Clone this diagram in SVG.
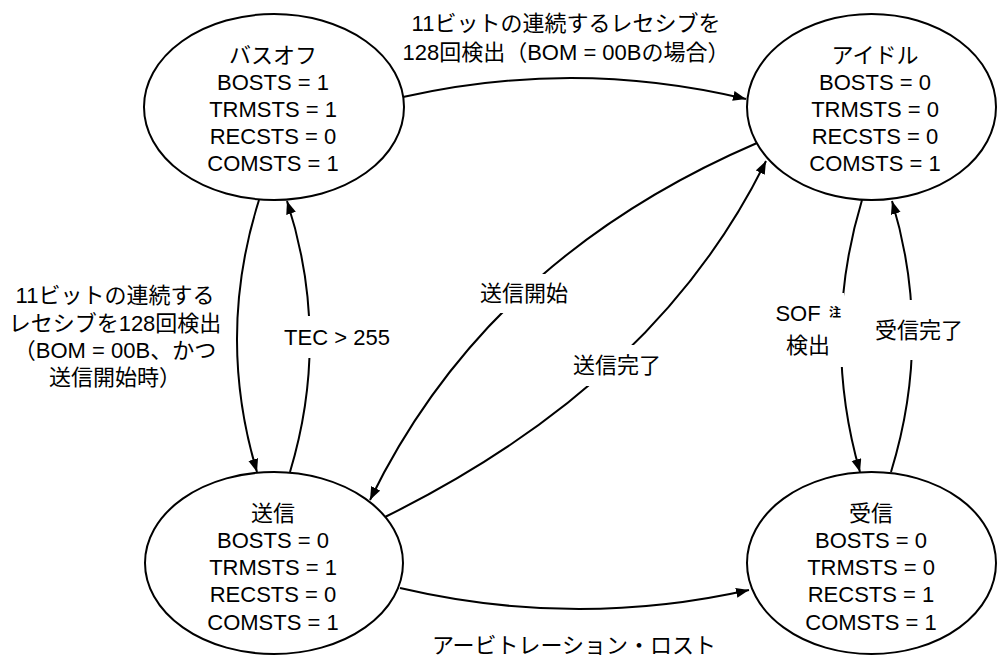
<svg xmlns="http://www.w3.org/2000/svg" width="997" height="659" viewBox="0 0 997 659">
<style>
text{font-family:"Liberation Sans","Noto Sans CJK JP",sans-serif;font-size:22px;fill:#000;text-anchor:middle}
.node ellipse{fill:#fff;stroke:#000;stroke-width:2}
.edge{fill:none;stroke:#000;stroke-width:2}
.bg{fill:#fff;stroke:none}
.note{font-size:12px;font-weight:bold}
</style>
<defs>
<marker id="ah" markerUnits="userSpaceOnUse" markerWidth="14" markerHeight="12" refX="13" refY="5" orient="auto">
<path d="M0,0 L13,5 L0,10 z" fill="#000"/>
</marker>
</defs>
<rect width="997" height="659" fill="#fff"/>
<g id="connectors">
<path class="edge" d="M403,97 Q575,58 746,99" marker-end="url(#ah)"/>
<path class="edge" d="M259,200 Q216,336 257,472" marker-end="url(#ah)"/>
<path class="edge" d="M290,472 Q331,336 287,201" marker-end="url(#ah)"/>
<path class="edge" d="M862,200 Q821,336 860,472" marker-end="url(#ah)"/>
<path class="edge" d="M891,472 Q933,336 892,201" marker-end="url(#ah)"/>
<path class="edge" d="M757,143 Q487,259 370,500" marker-end="url(#ah)"/>
<path class="edge" d="M385,517 Q657,383 766,161" marker-end="url(#ah)"/>
<path class="edge" d="M400,588 Q575,629 749,590" marker-end="url(#ah)"/>
<rect class="bg" x="281" y="316" width="114" height="42"/>
<rect class="bg" x="774" y="293" width="70" height="74"/>
<rect class="bg" x="873" y="300" width="92" height="60"/>
<rect class="bg" x="478" y="274" width="92" height="39"/>
<rect class="bg" x="571" y="345" width="93" height="41"/>
<text x="566" y="31">11ビットの連続するレセシブを</text>
<text x="566" y="60">128回検出（BOM = 00Bの場合）</text>
<text x="115" y="303">11ビットの連続する</text>
<text x="115" y="331">レセシブを128回検出</text>
<text x="115" y="358">（BOM = 00B、かつ</text>
<text x="115" y="385">送信開始時）</text>
<text x="337" y="345">TEC &gt; 255</text>
<text x="798" y="321">SOF</text>
<text class="note" x="835" y="317">注</text>
<text x="808" y="353">検出</text>
<text x="919" y="338">受信完了</text>
<text x="524" y="301">送信開始</text>
<text x="617" y="373">送信完了</text>
<text x="574" y="653">アービトレーション・ロスト</text>
</g>
<g id="busoff" class="node">
<ellipse cx="274" cy="107" rx="130" ry="93"/>
<text x="273" y="63">バスオフ</text>
<text x="273" y="90">BOSTS = 1</text>
<text x="273" y="117">TRMSTS = 1</text>
<text x="273" y="144">RECSTS = 0</text>
<text x="273" y="171">COMSTS = 1</text>
</g>
<g id="idle" class="node">
<ellipse cx="871.5" cy="107" rx="124.5" ry="93"/>
<text x="875" y="63">アイドル</text>
<text x="875" y="90">BOSTS = 0</text>
<text x="875" y="117">TRMSTS = 0</text>
<text x="875" y="144">RECSTS = 0</text>
<text x="875" y="171">COMSTS = 1</text>
</g>
<g id="transmit" class="node">
<ellipse cx="274" cy="563" rx="129" ry="91"/>
<text x="273" y="521">送信</text>
<text x="273" y="548">BOSTS = 0</text>
<text x="273" y="575">TRMSTS = 1</text>
<text x="273" y="602">RECSTS = 0</text>
<text x="273" y="630">COMSTS = 1</text>
</g>
<g id="receive" class="node">
<ellipse cx="871.5" cy="563" rx="124.5" ry="91"/>
<text x="871" y="521">受信</text>
<text x="871" y="548">BOSTS = 0</text>
<text x="871" y="575">TRMSTS = 0</text>
<text x="871" y="602">RECSTS = 1</text>
<text x="871" y="630">COMSTS = 1</text>
</g>
</svg>
